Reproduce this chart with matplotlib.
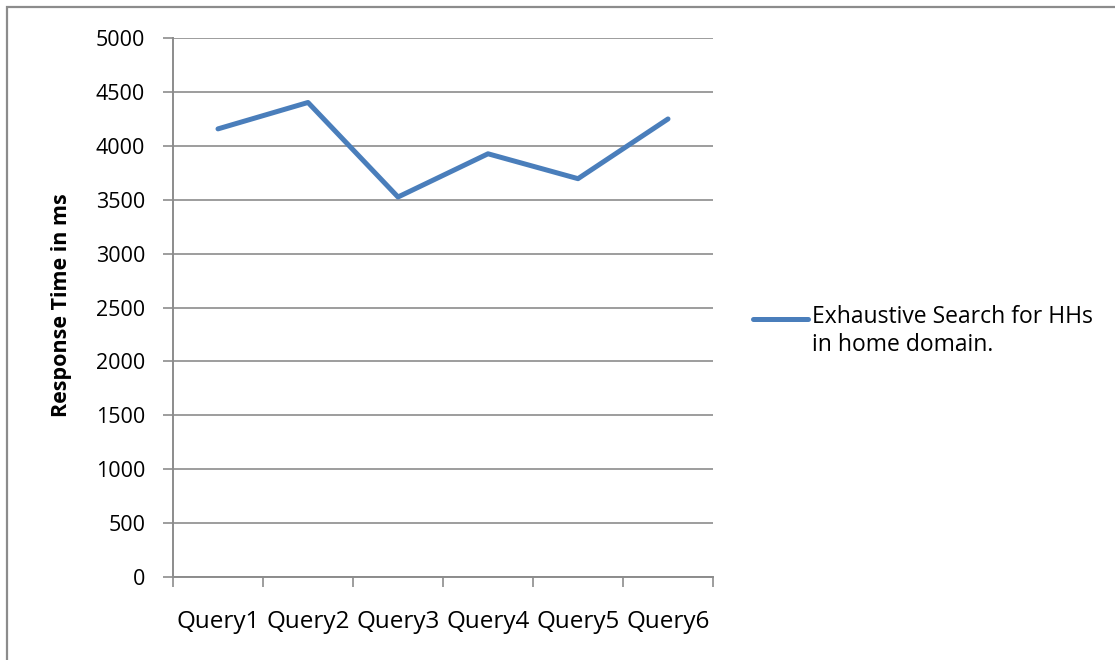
import matplotlib
matplotlib.use("Agg")
import matplotlib.pyplot as plt
from matplotlib.lines import Line2D
from matplotlib.patches import Rectangle

queries = ["Query1", "Query2", "Query3", "Query4", "Query5", "Query6"]
response_ms = [4157, 4402, 3525, 3926, 3695, 4249]
series_label = "Exhaustive Search for HHs\nin home domain."
y_ticks = [0, 500, 1000, 1500, 2000, 2500, 3000, 3500, 4000, 4500, 5000]

plt.rcParams["font.family"] = ["Open Sans", "DejaVu Sans"]

W, H = 1115, 660
fig = plt.figure(figsize=(W / 100, H / 100), dpi=100)
fig.patch.set_facecolor("white")

# outer chart frame (only top and left edges fall inside the canvas)
fig.add_artist(Rectangle((7 / W, -0.1), 1.2, 1 - 7 / H + 0.1,
                         transform=fig.transFigure, fill=False,
                         edgecolor="#8c8c8c", linewidth=1.6))

ax = fig.add_axes([173 / W, 1 - 577 / H, (713 - 173) / W, (577 - 38) / H])
x = list(range(len(queries)))
line, = ax.plot(x, response_ms, color="#4a7ebb", linewidth=3.6,
                solid_joinstyle="round", solid_capstyle="round", zorder=3)

ax.set_xlim(-0.5, len(queries) - 0.5)
ax.set_ylim(0, 5000)
ax.set_yticks(y_ticks)
ax.set_yticklabels([str(v) for v in y_ticks], fontsize=15.5)
ax.set_xticks(x)
ax.set_xticklabels(queries, fontsize=17.5)
ax.tick_params(axis="x", which="major", length=0, pad=24)
ax.set_xticks([i - 0.5 for i in range(len(queries) + 1)], minor=True)
ax.tick_params(axis="x", which="minor", length=7, width=1.2, color="#8c8c8c")
ax.tick_params(axis="y", length=7, width=1.2, color="#8c8c8c", pad=13)

ax.grid(axis="y", color="#8c8c8c", linewidth=1.2)
ax.set_axisbelow(True)
for side in ("top", "right"):
    ax.spines[side].set_visible(False)
for side in ("left", "bottom"):
    ax.spines[side].set_color("#8c8c8c")
    ax.spines[side].set_linewidth(1.4)

ax.set_ylabel("Response Time in ms", fontsize=15.5, fontweight="bold")
ax.yaxis.set_label_coords(-0.187, 0.505)

# legend entry
fig.add_artist(Line2D([753 / W, 808 / W], [1 - 319 / H, 1 - 319 / H],
                      color="#4a7ebb", linewidth=3.6, solid_capstyle="round",
                      transform=fig.transFigure))
fig.text(812 / W, 1 - 305 / H, series_label, fontsize=16.5, va="top",
         ha="left", linespacing=1.2)

fig.savefig("out.png", dpi=100, facecolor="white")
